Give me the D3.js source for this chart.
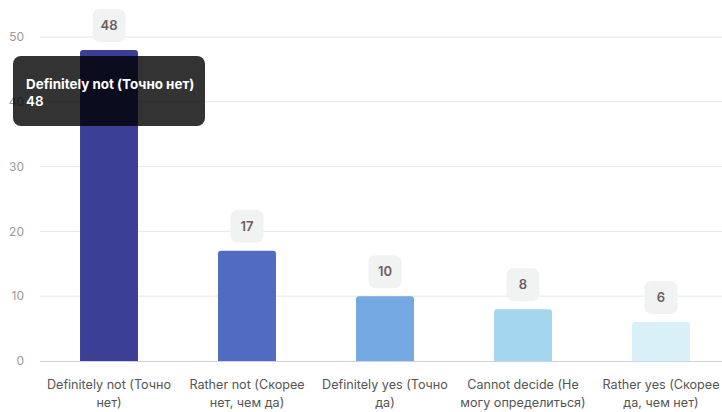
<!DOCTYPE html>
<html><head><meta charset="utf-8">
<script src="https://cdn.jsdelivr.net/npm/d3@7"></script>
<style>body{margin:0;background:#fff;font-family:Inter,"Noto Sans",sans-serif;}</style>
</head><body><svg id="c" width="722" height="412"></svg>
<script>
const categories = [
  ["Definitely not (Точно", "нет)"],
  ["Rather not (Скорее", "нет, чем да)"],
  ["Definitely yes (Точно", "да)"],
  ["Cannot decide (Не", "могу определиться)"],
  ["Rather yes (Скорее", "да, чем нет)"]
];
const values = [48, 17, 10, 8, 6];
const colors = ["#3b3f96", "#506bbf", "#73a8e0", "#a4d6ef", "#daf0f8"];
const yTicks = [0, 10, 20, 30, 40, 50];
const tooltipTitle = "Definitely not (Точно нет)";

const svg = d3.select("#c");
const x = d3.scaleBand().domain(d3.range(values.length)).range([40, 730]).paddingInner(0.58).paddingOuter(0.29);
const y = d3.scaleLinear().domain([0, 50]).range([361, 37]);

// grid
svg.append("g").selectAll("line").data(yTicks.filter(d=>d>0)).join("line")
  .attr("x1", 40).attr("x2", 722).attr("y1", d=>y(d)).attr("y2", d=>y(d))
  .attr("stroke", "#e6e6e6").attr("stroke-width", 1);
// y labels
svg.append("g").selectAll("text").data(yTicks).join("text")
  .attr("x", 24).attr("y", d=>y(d)).attr("dy", "0.35em").attr("text-anchor", "end")
  .attr("font-size", 12).attr("fill", "#9a9a9a").text(d=>d);

// bars with rounded top
const r = 3;
svg.append("g").selectAll("path").data(values).join("path")
  .attr("fill", (d,i)=>colors[i])
  .attr("d", (d,i)=>{
    const x0 = x(i), w = x.bandwidth(), t = y(d), b = y(0);
    return `M${x0},${b}V${t+r}Q${x0},${t} ${x0+r},${t}H${x0+w-r}Q${x0+w},${t} ${x0+w},${t+r}V${b}Z`;
  });

// axis line
svg.append("line").attr("x1", 40).attr("x2", 722).attr("y1", y(0)+0.5).attr("y2", y(0)+0.5)
  .attr("stroke", "#cfcfe8").attr("stroke-width", 1);

// x labels
const xl = svg.append("g").selectAll("text").data(categories).join("text")
  .attr("text-anchor", "middle").attr("font-size", 12.6).attr("fill", "#555");
xl.each(function(d,i){
  const t = d3.select(this);
  const cx = x(i) + x.bandwidth()/2;
  d.forEach((line, j)=>{
    t.append("tspan").attr("x", cx).attr("y", 389 + j*18).text(line);
  });
});

// value label boxes
const lb = svg.append("g").selectAll("g").data(values).join("g")
  .attr("transform", (d,i)=>`translate(${x(i)+x.bandwidth()/2},${y(d)-8})`);
lb.append("rect").attr("x", -16.5).attr("y", -33).attr("width", 33).attr("height", 33)
  .attr("rx", 7).attr("fill", "#f1f2f2");
lb.append("text").attr("y", -16.5).attr("dy", "0.36em").attr("text-anchor", "middle")
  .attr("font-size", 13).attr("font-weight", 600).attr("fill", "#6b5f60").text(d=>d);

// tooltip
const tt = svg.append("g");
tt.append("rect").attr("x", 13).attr("y", 56).attr("width", 192).attr("height", 70)
  .attr("rx", 8).attr("fill", "rgba(0,0,0,0.8)");
tt.append("text").attr("x", 26).attr("y", 89).attr("font-size", 13.4).attr("font-weight", 700)
  .attr("fill", "#fff").text(tooltipTitle);
tt.append("text").attr("x", 26).attr("y", 106).attr("font-size", 13.4).attr("font-weight", 600)
  .attr("fill", "#fff").text(values[0]);
</script></body></html>
